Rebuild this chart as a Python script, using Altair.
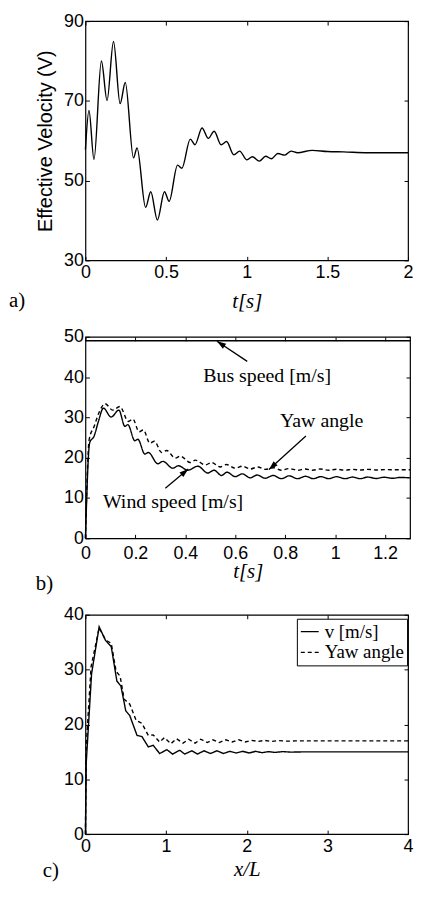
import math
import altair as alt
import pandas as pd

# ---------------- data ----------------
# panel a) effective velocity
a_t = [0.0, 0.022, 0.053, 0.099, 0.134, 0.174, 0.215, 0.247, 0.298, 0.32, 0.373, 0.405,
       0.446, 0.49, 0.519, 0.571, 0.598, 0.65, 0.679, 0.723, 0.762, 0.798, 0.841, 0.875,
       0.92, 0.956, 1.001, 1.035, 1.078, 1.117, 1.153, 1.193, 1.236, 1.275, 1.315, 1.406,
       1.5, 1.6, 1.75, 1.9, 2.0]
a_v = [57.8, 67.6, 55.3, 80.0, 70.1, 84.9, 69.3, 74.6, 55.7, 58.2, 43.3, 47.2,
       40.1, 47.2, 44.8, 53.9, 53.1, 60.4, 59.0, 63.2, 60.6, 62.4, 59.0, 59.8,
       56.5, 57.4, 55.2, 56.0, 54.9, 56.1, 55.5, 56.8, 56.4, 57.4, 57.0, 57.6,
       57.3, 57.2, 57.0, 57.0, 57.0]

# panel b) wind speed, yaw angle, bus speed
b_wind_t = [0, 0.017, 0.035, 0.052, 0.072, 0.103, 0.134, 0.158, 0.17, 0.198, 0.21, 0.238,
            0.252, 0.29, 0.31, 0.35, 0.372, 0.41, 0.45, 0.49, 0.515, 0.545, 0.567, 0.6,
            0.628, 0.66, 0.688, 0.72, 0.752, 0.785, 0.816, 0.85, 0.882, 0.912, 0.943,
            0.975, 1.005, 1.04, 1.07, 1.1, 1.13, 1.165, 1.195, 1.23, 1.26, 1.3]
b_wind_v = [0, 23.7, 25.4, 29.0, 32.3, 30.1, 31.8, 27.8, 28.2, 24.2, 24.6, 20.9,
            21.3, 18.5, 19.1, 17.4, 18.0, 16.9, 17.9, 16.2, 16.9, 15.6, 16.4, 15.3,
            16.0, 15.0, 15.7, 14.9, 15.6, 14.8, 15.5, 14.8, 15.4, 14.8, 15.3,
            14.8, 15.3, 14.8, 15.2, 14.8, 15.2, 14.85, 15.15, 14.9, 15.1, 15.0]
b_yaw_t = [0, 0.015, 0.035, 0.055, 0.079, 0.109, 0.138, 0.172, 0.19, 0.215, 0.232, 0.258,
           0.276, 0.305, 0.325, 0.36, 0.38, 0.42, 0.44, 0.48, 0.505, 0.54, 0.565, 0.6,
           0.63, 0.66, 0.69, 0.72, 0.755, 0.785, 0.815, 0.85, 0.88, 0.91, 0.94, 0.975,
           1.005, 1.04, 1.07, 1.1, 1.13, 1.17, 1.2, 1.25, 1.3]
b_yaw_v = [0, 24.5, 27.8, 31.3, 33.4, 31.8, 32.7, 29.0, 29.6, 26.4, 26.9, 23.6,
           24.1, 21.3, 21.8, 19.9, 20.4, 18.8, 19.4, 18.2, 18.8, 17.7, 18.3, 17.4,
           17.9, 17.2, 17.7, 17.1, 17.5, 16.9, 17.3, 16.9, 17.2, 16.9, 17.2, 16.9,
           17.15, 16.9, 17.1, 16.95, 17.1, 16.95, 17.05, 17.0, 17.0]
b_bus_v = [49]
b_notes = ["Bus speed [m/s]", "Yaw angle", "Wind speed [m/s]"]
b_note_t = [0.728, 0.946, 0.351]
b_note_v = [38.8, 27.5, 7.4]
arrow_t0 = [0.648, 0.883, 0.32]
arrow_v0 = [43.9, 25.4, 12.4]
arrow_t1 = [0.527, 0.735, 0.412]
arrow_v1 = [48.9, 17.1, 17.2]

# panel c) versus x/L
c_v_x = [0, 0.01, 0.076, 0.17, 0.25, 0.32, 0.39, 0.44, 0.5, 0.55, 0.64, 0.7, 0.78, 0.84,
         0.92, 1.01, 1.08, 1.17, 1.23, 1.32, 1.39, 1.47, 1.55, 1.63, 1.71, 1.79, 1.87,
         1.95, 2.03, 2.11, 2.19, 2.27, 2.35, 2.45, 2.55, 2.7, 4.0]
c_v_y = [0, 13, 29.2, 37.8, 35.3, 34.2, 27.9, 27.0, 22.5, 21.6, 18.0, 17.8, 15.9, 16.2,
         14.7, 15.4, 14.6, 15.3, 14.6, 15.2, 14.6, 15.2, 14.7, 15.2, 14.7, 15.1, 14.8,
         15.1, 14.8, 15.1, 14.85, 15.05, 14.9, 15.05, 14.95, 15.0, 15.0]
c_yaw_x = [0, 0.01, 0.07, 0.17, 0.25, 0.32, 0.38, 0.43, 0.48, 0.55, 0.63, 0.7, 0.78, 0.84,
           0.92, 0.98, 1.06, 1.13, 1.21, 1.28, 1.36, 1.43, 1.51, 1.58, 1.66, 1.74, 1.82,
           1.9, 1.98, 2.06, 2.14, 2.22, 2.3, 2.4, 2.5, 2.6, 4.0]
c_yaw_y = [0, 16, 30.5, 37.6, 35.4, 34.8, 29.7, 28.8, 24.6, 23.7, 20.7, 20.2, 18.0, 18.1,
           16.8, 17.6, 16.5, 17.4, 16.6, 17.3, 16.6, 17.3, 16.7, 17.2, 16.7, 17.2, 16.8,
           17.2, 16.8, 17.1, 16.9, 17.1, 16.9, 17.05, 16.95, 17.0, 17.0]
c_series = ["v [m/s]", "Yaw angle"]

panel_tags = ["a)", "b)", "c)"]

# ---------------- layout / style ----------------
A_W, A_H = 325, 241
B_W, B_H = 327, 203
C_W, C_H = 325, 221
GAP = 77
SANS = "Liberation Sans"
SERIF = "Liberation Serif"
TICK = 4
FMT = "~f"


def bottom_axis(values, title, label_pad, title_pad):
    return alt.Axis(orient="bottom", values=values, format=FMT, title=title,
                    offset=-TICK, tickSize=TICK, domain=False, grid=False, minExtent=0,
                    tickColor="black", labelColor="black", labelFont=SANS,
                    labelFontSize=18, labelPadding=label_pad, labelFlush=False,
                    labelOverlap=False, titleFont=SERIF, titleFontStyle="italic",
                    titleFontWeight="normal", titleFontSize=21, titleColor="black",
                    titlePadding=title_pad)


def left_axis(values, title=None, height=None):
    if title is not None:
        kw = dict(title=title, titleFont=SANS, titleFontSize=20, titleFontWeight="normal",
                  titleColor="black", titleX=-34, titleY=height / 2, titleAngle=270,
                  titleAlign="center", titleBaseline="bottom")
    else:
        kw = dict(title=None)
    return alt.Axis(orient="left", values=values, format=FMT, offset=-TICK, tickSize=TICK,
                    domain=False, grid=False, tickColor="black",
                    labelColor="black", labelFont=SANS, labelFontSize=18, labelPadding=2,
                    labelFlush=False, labelOverlap=False, **kw)


def top_axis(values):
    return alt.Axis(orient="top", values=values, labels=False, title=None, offset=-TICK,
                    tickSize=TICK, domain=False, grid=False, minExtent=0, tickColor="black")


def right_axis(values):
    return alt.Axis(orient="right", values=values, labels=False, title=None, offset=-TICK,
                    tickSize=TICK, domain=False, grid=False, minExtent=0, tickColor="black")


def tag_layer(tag, x, y):
    return alt.Chart(pd.DataFrame({"lab": [tag]})).mark_text(
        font=SERIF, fontSize=21, align="left", baseline="alphabetic", color="black"
    ).encode(x=alt.value(x), y=alt.value(y), text="lab:N")


# ---------------- panel a ----------------
df_a = pd.DataFrame({"t": a_t, "v": a_v})
xa = alt.Scale(domain=[0, 2], nice=False, zero=False)
ya = alt.Scale(domain=[30, 90], nice=False, zero=False)
xa_vals = [0, 0.5, 1, 1.5, 2]
ya_vals = [30, 50, 70, 90]
line_a = alt.Chart(df_a).mark_line(color="black", strokeWidth=1.4, interpolate="monotone").encode(
    x=alt.X("t:Q", scale=xa, axis=bottom_axis(xa_vals, "t[s]", 3, 9)),
    y=alt.Y("v:Q", scale=ya, axis=left_axis(ya_vals, "Effective Velocity (V)", A_H)),
)
frame_a = alt.Chart(df_a).mark_line(opacity=0).encode(
    x=alt.X("t:Q", scale=xa, axis=top_axis(xa_vals)),
    y=alt.Y("v:Q", scale=ya, axis=right_axis(ya_vals)),
)
panel_a = alt.layer(line_a, frame_a, tag_layer(panel_tags[0], -77, 288)).resolve_axis(
    x="independent", y="independent").properties(width=A_W, height=A_H)

# ---------------- panel b ----------------
B_TMAX, B_VMAX = 1.3, 50
df_b = pd.concat([
    pd.DataFrame({"t": b_wind_t, "v": b_wind_v, "sb": "wind"}),
    pd.DataFrame({"t": b_yaw_t, "v": b_yaw_v, "sb": "yaw"}),
])
xb = alt.Scale(domain=[0, B_TMAX], nice=False, zero=False)
yb = alt.Scale(domain=[0, B_VMAX], nice=False, zero=False)
xb_vals = [0, 0.2, 0.4, 0.6, 0.8, 1, 1.2]
yb_vals = [0, 10, 20, 30, 40, 50]
lines_b = alt.Chart(df_b).mark_line(color="black", strokeWidth=1.4, interpolate="monotone").encode(
    x=alt.X("t:Q", scale=xb, axis=bottom_axis(xb_vals, "t[s]", 6, -2)),
    y=alt.Y("v:Q", scale=yb, axis=left_axis(yb_vals)),
    strokeDash=alt.StrokeDash("sb:N", scale=alt.Scale(domain=["wind", "yaw"], range=[[1, 0], [4, 3]]),
                              legend=None),
)
frame_b = alt.Chart(df_b).mark_line(opacity=0).encode(
    x=alt.X("t:Q", scale=xb, axis=top_axis(xb_vals)),
    y=alt.Y("v:Q", scale=yb, axis=right_axis(yb_vals)),
)
bus_b = alt.Chart(pd.DataFrame({"v": b_bus_v})).mark_rule(color="black", strokeWidth=1.5).encode(
    y=alt.Y("v:Q", scale=yb, axis=None))

angles = []
for t0, v0, t1, v1 in zip(arrow_t0, arrow_v0, arrow_t1, arrow_v1):
    dx = (t1 - t0) / B_TMAX * B_W
    dy = -(v1 - v0) / B_VMAX * B_H
    angles.append(math.degrees(math.atan2(dx, -dy)) % 360)
df_arrows = pd.DataFrame({"t0": arrow_t0, "v0": arrow_v0, "t1": arrow_t1, "v1": arrow_v1,
                          "ang": angles})
shafts_b = alt.Chart(df_arrows).mark_rule(color="black", strokeWidth=1.3).encode(
    x=alt.X("t0:Q", scale=xb, axis=None), y=alt.Y("v0:Q", scale=yb, axis=None),
    x2="t1:Q", y2="v1:Q")
heads_b = alt.Chart(df_arrows).mark_point(shape="M0,0L0.33,1L-0.33,1Z", filled=True, size=330,
                                         color="black", opacity=1, strokeWidth=0).encode(
    x=alt.X("t1:Q", scale=xb, axis=None), y=alt.Y("v1:Q", scale=yb, axis=None),
    angle=alt.Angle("ang:Q", scale=None))
notes_b = alt.Chart(pd.DataFrame({"t": b_note_t, "v": b_note_v, "txt": b_notes})).mark_text(
    font=SERIF, fontSize=20, align="center", baseline="alphabetic", color="black").encode(
    x=alt.X("t:Q", scale=xb, axis=None), y=alt.Y("v:Q", scale=yb, axis=None), text="txt:N")
panel_b = alt.layer(lines_b, frame_b, bus_b, shafts_b, heads_b, notes_b,
                    tag_layer(panel_tags[1], -50, 255)).resolve_axis(
    x="independent", y="independent").properties(width=B_W, height=B_H)

# ---------------- panel c ----------------
df_c = pd.concat([
    pd.DataFrame({"x": c_v_x, "v": c_v_y, "sc": c_series[0]}),
    pd.DataFrame({"x": c_yaw_x, "v": c_yaw_y, "sc": c_series[1]}),
])
xc = alt.Scale(domain=[0, 4], nice=False, zero=False)
yc = alt.Scale(domain=[0, 40], nice=False, zero=False)
xc_vals = [0, 1, 2, 3, 4]
yc_vals = [0, 10, 20, 30, 40]
lines_c = alt.Chart(df_c).mark_line(color="black", strokeWidth=1.4).encode(
    x=alt.X("x:Q", scale=xc, axis=bottom_axis(xc_vals, "x/L", 3, 4)),
    y=alt.Y("v:Q", scale=yc, axis=left_axis(yc_vals)),
    strokeDash=alt.StrokeDash(
        "sc:N", scale=alt.Scale(domain=c_series, range=[[1, 0], [4, 3]]),
        legend=alt.Legend(orient="none", legendX=C_W - 112, legendY=4, title=None,
                          labelFont=SERIF, labelFontSize=19, labelColor="black",
                          symbolType="stroke", symbolSize=324, symbolStrokeWidth=1.3,
                          symbolStrokeColor="black", strokeColor="black", fillColor="white",
                          padding=3, rowPadding=1, labelOffset=5, cornerRadius=0)),
)
frame_c = alt.Chart(df_c).mark_line(opacity=0).encode(
    x=alt.X("x:Q", scale=xc, axis=top_axis(xc_vals)),
    y=alt.Y("v:Q", scale=yc, axis=right_axis(yc_vals)),
)
panel_c = alt.layer(lines_c, frame_c, tag_layer(panel_tags[2], -43, 264)).resolve_axis(
    x="independent", y="independent").properties(width=C_W, height=C_H)

chart = alt.vconcat(panel_a, panel_b, panel_c, spacing=GAP, bounds="flush").resolve_scale(
    strokeDash="independent").resolve_legend(strokeDash="independent").configure_view(
    stroke="black", strokeWidth=1.2).properties(
    padding={"left": 0, "top": 0, "right": 0, "bottom": 0})

chart.save("out.html", embed_options={"renderer": "svg", "actions": False})
